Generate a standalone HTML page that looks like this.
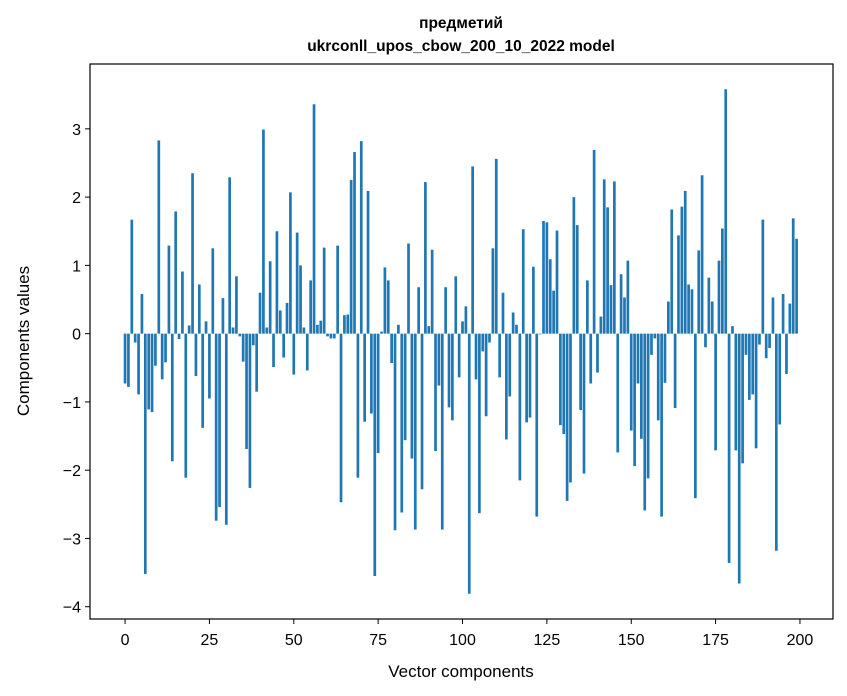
<!DOCTYPE html>
<html><head><meta charset="utf-8"><style>
body{margin:0;background:#fff;}
svg{display:block;font-family:"Liberation Sans","DejaVu Sans",sans-serif;}
</style></head><body>
<svg id="chart" width="847" height="696" viewBox="0 0 847 696" xmlns="http://www.w3.org/2000/svg">
<text x="461" y="28" text-anchor="middle" font-size="15.5" font-weight="bold">предметий</text>
<text x="461" y="51" text-anchor="middle" font-size="15.5" font-weight="bold">ukrconll_upos_cbow_200_10_2022 model</text>
<g id="bars"></g>
<rect x="90" y="64" width="743" height="555" fill="none" stroke="#000" stroke-width="1.2"/>
<g id="xticks"></g>
<g id="yticks"></g>
<text x="461" y="677" text-anchor="middle" font-size="17">Vector components</text>
<text transform="translate(29,341) rotate(-90)" text-anchor="middle" font-size="17">Components values</text>
</svg>
<script>
const values = [
-0.73,-0.78,1.67,-0.13,-0.89,0.58,-3.52,-1.11,-1.15,-0.47,
2.83,-0.67,-0.42,1.29,-1.87,1.79,-0.08,0.91,-2.11,0.12,
2.35,-0.62,0.72,-1.38,0.18,-0.95,1.25,-2.74,-2.54,0.52,
-2.80,2.29,0.09,0.84,-0.04,-0.41,-1.69,-2.26,-0.17,-0.85,
0.60,2.99,0.09,1.06,-0.49,1.50,0.34,-0.35,0.45,2.07,
-0.60,1.48,1.00,0.09,-0.54,0.78,3.36,0.13,0.19,1.26,
-0.04,-0.07,-0.07,1.29,-2.47,0.27,0.28,2.25,2.66,-2.11,
2.82,-1.29,2.09,-1.17,-3.55,-1.75,0.03,0.97,0.78,-0.43,
-2.88,0.13,-2.62,-1.56,1.32,-1.83,-2.87,0.68,-2.28,2.22,
0.11,1.23,-1.72,-0.76,-2.87,0.68,-1.08,-1.27,0.84,-0.64,
0.18,0.40,-3.81,2.45,-0.67,-2.63,-0.26,-1.21,-0.13,1.25,
2.56,-0.64,0.60,-1.55,-0.92,0.31,0.13,-2.15,1.53,-1.30,
-1.23,0.98,-2.68,-0.01,1.65,1.63,1.09,0.63,1.51,-1.34,
-1.47,-2.45,-2.18,2.00,1.59,-1.12,-2.05,0.78,-0.73,2.69,
-0.57,0.25,2.26,1.85,0.71,2.23,-1.74,0.87,0.53,1.07,
-1.42,-1.94,-0.73,-1.54,-2.59,-2.12,-0.31,-0.07,-1.27,-2.68,
-0.72,0.47,1.82,-1.09,1.44,1.86,2.09,0.72,0.65,-2.41,
1.22,2.32,-0.20,0.82,0.47,-1.71,1.07,1.54,3.58,-3.36,
0.11,-1.71,-3.66,-1.90,-0.31,-0.97,-0.89,-1.68,-0.16,1.67,
-0.36,-0.21,0.53,-3.18,-1.33,0.58,-0.59,0.44,1.69,1.39
];
const xTicks = [0,25,50,75,100,125,150,175,200];
const yTicks = [-4,-3,-2,-1,0,1,2,3];

const L=90,R=833,T=64,B=619;
const xMin=-10.39,xMax=209.79,yMin=-4.18,yMax=3.95;
const xs=v=>L+(v-xMin)/(xMax-xMin)*(R-L);
const ys=v=>B-(v-yMin)/(yMax-yMin)*(B-T);
const NS="http://www.w3.org/2000/svg";
const gb=document.getElementById('bars');
values.forEach((v,i)=>{
  const r=document.createElementNS(NS,'rect');
  const x0=xs(i-0.4),x1=xs(i+0.4);
  const y0=ys(Math.max(v,0)),y1=ys(Math.min(v,0));
  r.setAttribute('x',x0);r.setAttribute('width',x1-x0);
  r.setAttribute('y',y0);r.setAttribute('height',Math.max(y1-y0,0.3));
  r.setAttribute('fill','#1f77b4');
  
  
  gb.appendChild(r);
});
const gx=document.getElementById('xticks');
xTicks.forEach(t=>{
  const x=xs(t);
  const l=document.createElementNS(NS,'line');
  l.setAttribute('x1',x);l.setAttribute('x2',x);l.setAttribute('y1',B);l.setAttribute('y2',B+5);
  l.setAttribute('stroke','#000');
  
  
  gx.appendChild(l);
  const tx=document.createElementNS(NS,'text');
  tx.setAttribute('x',x);tx.setAttribute('y',B+26);tx.setAttribute('text-anchor','middle');tx.setAttribute('font-size','16');
  tx.textContent=t;
  
  
  gx.appendChild(tx);
});
const gy=document.getElementById('yticks');
yTicks.forEach(t=>{
  const y=ys(t);
  const l=document.createElementNS(NS,'line');
  l.setAttribute('x1',L-5);l.setAttribute('x2',L);l.setAttribute('y1',y);l.setAttribute('y2',y);
  l.setAttribute('stroke','#000');
  
  
  gy.appendChild(l);
  const tx=document.createElementNS(NS,'text');
  tx.setAttribute('x',L-9);tx.setAttribute('y',y+6);tx.setAttribute('text-anchor','end');tx.setAttribute('font-size','16');
  tx.textContent=t<0?'\u2212'+(-t):String(t);
  
  
  gy.appendChild(tx);
});
</script>
</body></html>
